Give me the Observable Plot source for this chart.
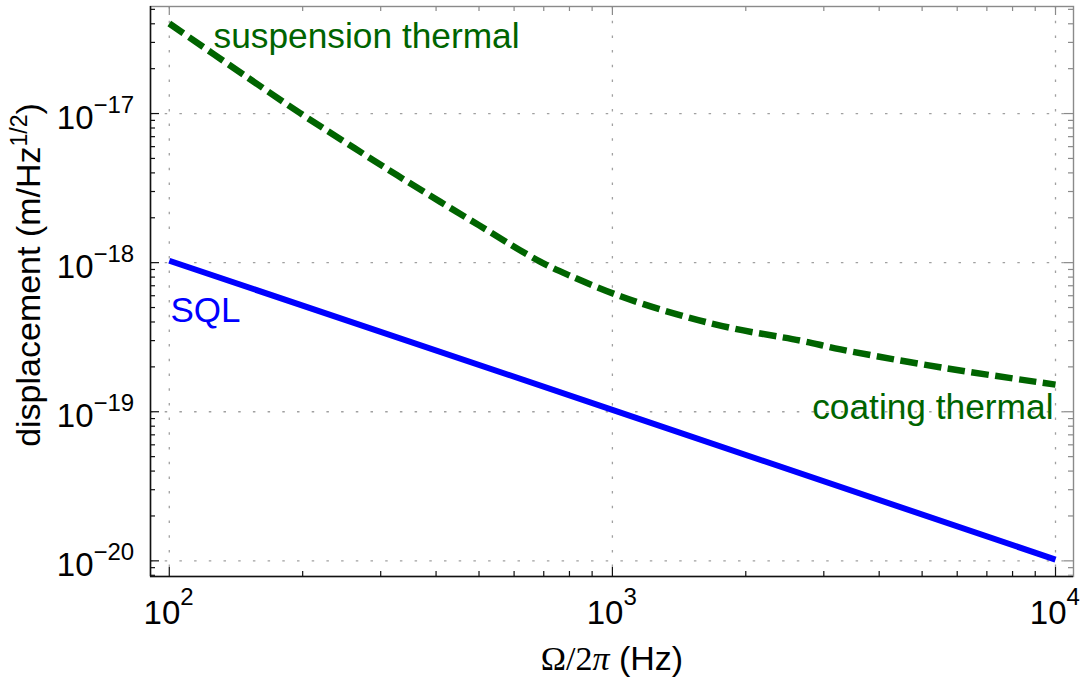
<!DOCTYPE html>
<html><head><meta charset="utf-8">
<script src="https://cdn.jsdelivr.net/npm/d3@7"></script>
<script src="https://cdn.jsdelivr.net/npm/@observablehq/plot@0.6"></script>
<style>body{margin:0;background:#fff} svg{display:block}</style>
</head><body><div id="chart"></div>
<script>
// ---- data ----
const sqlFreq = [100, 1000, 10000];
const sqlDisp = [1.03e-18, 1.03e-19, 1.02e-20];
const thermalFreq = [100, 150, 198, 250, 327, 500, 685, 800, 1043, 1400, 1875, 2660, 3273, 5585, 10000];
const thermalDisp = [4.02e-17, 1.75e-17, 1.0e-17, 6.4e-18, 3.85e-18, 1.78e-18, 1.02e-18, 8.2e-19, 5.95e-19, 4.5e-19, 3.62e-19, 3.0e-19, 2.62e-19, 1.97e-19, 1.52e-19];
const xTickValues = [100, 1000, 10000];
const xTickExponents = ["2", "3", "4"];
const yTickValues = [1e-17, 1e-18, 1e-19, 1e-20];
const yTickExponents = ["\u221217", "\u221218", "\u221219", "\u221220"];
const xDomain = [90.7, 10980];
const yDomain = [Math.pow(10, -20.105), Math.pow(10, -16.282)];
const seriesLabels = ["suspension thermal", "coating thermal", "SQL"];

// ---- layout ----
const W = 1086, H = 682, mL = 150, mR = 13, mT = 6, mB = 106;
const plotW = W - mL - mR, plotH = H - mT - mB;
const isMajor = v => Math.abs(Math.log10(v) - Math.round(Math.log10(v))) < 1e-9;
const xAll = d3.scaleLog().domain(xDomain).ticks();
const yAll = d3.scaleLog().domain(yDomain).ticks();
const xMaj = xAll.filter(isMajor), xMin = xAll.filter(v => !isMajor(v));
const yMaj = yAll.filter(isMajor), yMin = yAll.filter(v => !isMajor(v));

const sql = sqlFreq.map((f, i) => ({f, v: sqlDisp[i]}));
const thermal = thermalFreq.map((f, i) => ({f, v: thermalDisp[i]}));

const green = "#006400", blue = "#0000ff";
const gridStyle = {stroke: "#a0a0a0", strokeWidth: 1.3, strokeDasharray: "2.5,12.2"};
const dark = "#111", gray = "#8a8a8a";

const chart = Plot.plot({
  width: W, height: H,
  marginLeft: mL, marginRight: mR, marginTop: mT, marginBottom: mB,
  x: {type: "log", domain: xDomain, axis: null},
  y: {type: "log", domain: yDomain, axis: null},
  style: {fontFamily: "'Liberation Sans', Arial, sans-serif", background: "#fff", color: "#000"},
  marks: [
    Plot.ruleX(xTickValues, gridStyle),
    Plot.ruleY(yTickValues, gridStyle),
    Plot.frame({stroke: gray, strokeWidth: 1.4}),
    Plot.ruleX([xDomain[0]], {stroke: dark, strokeWidth: 1.5}),
    Plot.ruleY([yDomain[0]], {stroke: dark, strokeWidth: 1.5}),
    // bottom / top ticks
    Plot.ruleX(xMaj, {insetTop: plotH - 9, stroke: dark, strokeWidth: 1.2}),
    Plot.ruleX(xMin, {insetTop: plotH - 5, stroke: dark, strokeWidth: 1.2}),
    Plot.ruleX(xMaj, {insetBottom: plotH - 9, stroke: gray, strokeWidth: 1.2}),
    Plot.ruleX(xMin, {insetBottom: plotH - 5, stroke: gray, strokeWidth: 1.2}),
    // left / right ticks
    Plot.ruleY(yMaj, {insetRight: plotW - 9, stroke: dark, strokeWidth: 1.2}),
    Plot.ruleY(yMin, {insetRight: plotW - 5, stroke: dark, strokeWidth: 1.2}),
    Plot.ruleY(yMaj, {insetLeft: plotW - 9, stroke: gray, strokeWidth: 1.2}),
    Plot.ruleY(yMin, {insetLeft: plotW - 5, stroke: gray, strokeWidth: 1.2}),
    // series
    Plot.line(thermal, {x: "f", y: "v", stroke: green, strokeWidth: 6.5, strokeDasharray: "17.5,6.5", curve: "catmull-rom", strokeLinecap: "butt"}),
    Plot.line(sql, {x: "f", y: "v", stroke: blue, strokeWidth: 6, strokeLinecap: "butt"}),
    // x tick labels
    Plot.text(xTickValues, {x: d => d, frameAnchor: "bottom", lineAnchor: "middle", text: () => "10", textAnchor: "end", dx: 11, dy: 37, fontSize: 33, fill: "#000"}),
    Plot.text(xTickValues, {x: d => d, frameAnchor: "bottom", lineAnchor: "middle", text: (d, i) => xTickExponents[i], textAnchor: "start", dx: 11, dy: 21, fontSize: 24, fill: "#000"}),
    // y tick labels
    Plot.text(yTickValues, {y: d => d, frameAnchor: "left", lineAnchor: "middle", text: () => "10", textAnchor: "end", dx: -57, dy: 4.4, fontSize: 33, fill: "#000"}),
    Plot.text(yTickValues, {y: d => d, frameAnchor: "left", lineAnchor: "middle", text: (d, i) => yTickExponents[i], textAnchor: "start", dx: -57, dy: -8.4, fontSize: 24, fill: "#000"}),
    // series labels
    Plot.text([seriesLabels[0]], {text: d => d, frameAnchor: "top-left", lineAnchor: "middle", textAnchor: "start", dx: 63, dy: 30, fontSize: 35.3, fill: green}),
    Plot.text([seriesLabels[1]], {text: d => d, frameAnchor: "top-right", lineAnchor: "middle", textAnchor: "end", dx: -20, dy: 401, fontSize: 35.3, fill: green}),
    Plot.text([seriesLabels[2]], {text: d => d, frameAnchor: "top-left", lineAnchor: "middle", textAnchor: "start", dx: 20, dy: 304, fontSize: 35, fill: blue})
  ]
});

document.getElementById("chart").appendChild(chart);
const svg = d3.select(chart);

// x axis title
const xt = svg.append("text").attr("x", 612).attr("y", 670).attr("text-anchor", "middle")
  .attr("font-size", 34).attr("fill", "#000");
xt.append("tspan").attr("font-family", "'Liberation Serif', 'Times New Roman', serif").text("\u03A9/2");
xt.append("tspan").attr("font-family", "'Liberation Serif', 'Times New Roman', serif").attr("font-style", "italic").text("\u03C0");
xt.append("tspan").attr("font-family", "'Liberation Sans', Arial, sans-serif").text(" (Hz)");

// y axis title
const yt = svg.append("text").attr("transform", "translate(40,275) rotate(-90)")
  .attr("text-anchor", "middle").attr("font-size", 34).attr("fill", "#000")
  .attr("font-family", "'Liberation Sans', Arial, sans-serif");
yt.append("tspan").text("displacement (m/Hz");
yt.append("tspan").attr("font-size", 23).attr("dy", -13).text("1/2");
yt.append("tspan").attr("dy", 13).text(")");
</script>
</body></html>
